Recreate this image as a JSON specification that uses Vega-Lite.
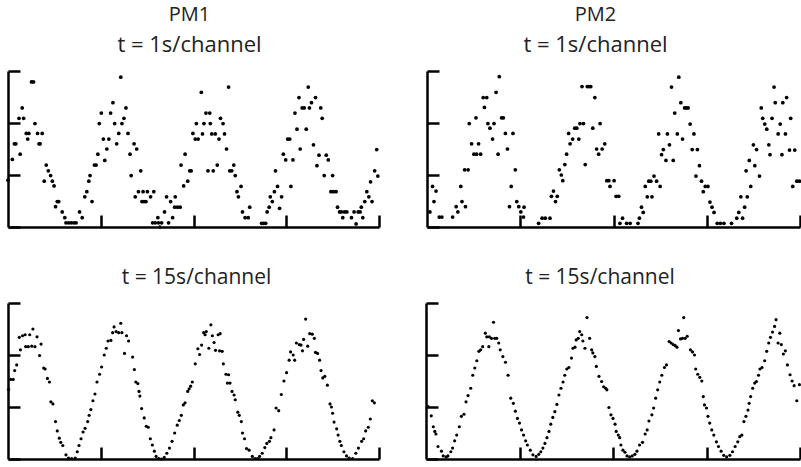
{
 "$schema": "https://vega.github.io/schema/vega-lite/v6.json",
 "padding": {"left": 6, "top": 4, "right": 0, "bottom": 2},
 "background": "white",
 "config": {
  "view": {"stroke": null},
  "font": "Open Sans",
  "title": {"font": "Open Sans", "fontSize": 20, "fontWeight": "normal", "color": "#222", "subtitleFont": "Open Sans", "subtitleFontSize": 22, "subtitleColor": "#222", "subtitlePadding": 10, "anchor": "middle", "offset": 14},
  "axis": {"domainColor": "#000", "domainWidth": 2.5, "tickColor": "#000", "tickWidth": 2.5, "tickSize": -12, "labels": false, "title": null, "grid": false}
 },
 "datasets": {
  "p1s": [
   {"ch":0,"v":0.90},{"ch":1.5,"v":1.30},{"ch":2.2,"v":1.60},{"ch":2.7,"v":1.60},{"ch":3.8,"v":2.09},{"ch":4.2,"v":1.40},{"ch":4.9,"v":2.29},{"ch":5.4,"v":2.09},{"ch":6.3,"v":1.80},{"ch":6.8,"v":1.69},{"ch":7.2,"v":1.80},{"ch":8.1,"v":2.79},{"ch":8.8,"v":2.79},{"ch":9.3,"v":1.99},{"ch":10.2,"v":1.80},{"ch":10.7,"v":1.60},{"ch":11.1,"v":1.60},{"ch":11.8,"v":1.80},{"ch":12.5,"v":0.88},{"ch":13.2,"v":1.19},{"ch":13.9,"v":1.08},{"ch":14.7,"v":0.99},{"ch":15.3,"v":0.88},{"ch":15.9,"v":0.79},{"ch":16.4,"v":0.39},{"ch":17.0,"v":0.49},{"ch":17.5,"v":0.49},{"ch":18.7,"v":0.29},{"ch":19.6,"v":0.18},{"ch":20.0,"v":0.08},{"ch":20.9,"v":0.08},{"ch":21.8,"v":0.08},{"ch":22.7,"v":0.08},{"ch":23.5,"v":0.08},{"ch":24.7,"v":0.29},{"ch":25.6,"v":0.18},{"ch":26.5,"v":0.58},{"ch":27.2,"v":0.68},{"ch":27.9,"v":0.88},{"ch":28.3,"v":0.99},{"ch":29.0,"v":0.49},{"ch":29.8,"v":1.19},{"ch":30.4,"v":1.19},{"ch":31.0,"v":1.40},{"ch":31.5,"v":1.99},{"ch":32.2,"v":2.19},{"ch":32.9,"v":1.69},{"ch":33.4,"v":1.28},{"ch":34.1,"v":1.50},{"ch":34.8,"v":1.69},{"ch":35.4,"v":2.19},{"ch":36.2,"v":2.39},{"ch":36.8,"v":1.99},{"ch":37.5,"v":1.60},{"ch":38.2,"v":1.80},{"ch":38.9,"v":2.88},{"ch":39.3,"v":1.99},{"ch":40.0,"v":2.09},{"ch":40.7,"v":2.29},{"ch":41.4,"v":1.80},{"ch":42.1,"v":1.40},{"ch":42.5,"v":0.99},{"ch":43.5,"v":1.60},{"ch":43.9,"v":0.58},{"ch":44.4,"v":1.50},{"ch":45.0,"v":0.68},{"ch":45.8,"v":1.08},{"ch":46.2,"v":0.49},{"ch":46.6,"v":0.68},{"ch":46.9,"v":0.49},{"ch":47.6,"v":0.49},{"ch":48.1,"v":0.68},{"ch":49.2,"v":0.58},{"ch":50.3,"v":0.68},{"ch":49.9,"v":0.08},{"ch":50.8,"v":0.08},{"ch":51.7,"v":0.18},{"ch":51.9,"v":0.08},{"ch":52.4,"v":0.0},{"ch":53.0,"v":0.08},{"ch":54.0,"v":0.29},{"ch":54.7,"v":0.58},{"ch":55.4,"v":0.08},{"ch":56.1,"v":0.49},{"ch":56.8,"v":0.18},{"ch":57.7,"v":0.58},{"ch":57.5,"v":0.38},{"ch":58.5,"v":0.38},{"ch":59.4,"v":0.38},{"ch":59.7,"v":1.19},{"ch":60.6,"v":0.79},{"ch":61.1,"v":1.40},{"ch":62.0,"v":0.88},{"ch":62.7,"v":1.08},{"ch":63.2,"v":1.08},{"ch":63.8,"v":1.80},{"ch":64.6,"v":1.69},{"ch":65.6,"v":1.69},{"ch":65.0,"v":1.99},{"ch":66.7,"v":2.59},{"ch":67.1,"v":1.79},{"ch":67.6,"v":1.99},{"ch":68.3,"v":2.19},{"ch":69.0,"v":1.08},{"ch":69.6,"v":2.19},{"ch":69.8,"v":1.99},{"ch":70.3,"v":1.79},{"ch":70.8,"v":1.08},{"ch":71.5,"v":1.79},{"ch":72.2,"v":1.19},{"ch":72.8,"v":1.69},{"ch":73.3,"v":2.09},{"ch":74.2,"v":1.99},{"ch":74.7,"v":1.79},{"ch":75.4,"v":1.50},{"ch":76.1,"v":2.69},{"ch":76.5,"v":1.08},{"ch":77.2,"v":1.08},{"ch":77.9,"v":1.19},{"ch":78.4,"v":0.99},{"ch":79.0,"v":0.68},{"ch":79.5,"v":0.58},{"ch":80.4,"v":0.78},{"ch":80.9,"v":0.29},{"ch":81.8,"v":0.18},{"ch":82.9,"v":0.18},{"ch":83.4,"v":0.38},{"ch":87.5,"v":0.07},{"ch":88.2,"v":0.07},{"ch":88.9,"v":0.07},{"ch":89.4,"v":0.29},{"ch":90.1,"v":0.38},{"ch":90.5,"v":0.58},{"ch":91.2,"v":0.49},{"ch":91.9,"v":0.68},{"ch":92.3,"v":1.08},{"ch":93.0,"v":0.78},{"ch":93.7,"v":0.36},{"ch":94.4,"v":0.58},{"ch":95.0,"v":1.40},{"ch":95.8,"v":1.29},{"ch":96.5,"v":1.69},{"ch":97.2,"v":1.69},{"ch":97.6,"v":0.78},{"ch":98.3,"v":1.29},{"ch":99.0,"v":2.19},{"ch":99.7,"v":1.88},{"ch":100.4,"v":2.49},{"ch":100.8,"v":1.50},{"ch":101.5,"v":2.29},{"ch":102.2,"v":2.29},{"ch":102.9,"v":1.88},{"ch":103.6,"v":2.69},{"ch":104.0,"v":2.29},{"ch":104.7,"v":2.39},{"ch":105.4,"v":1.58},{"ch":106.1,"v":2.49},{"ch":106.6,"v":1.18},{"ch":107.3,"v":1.38},{"ch":107.9,"v":2.29},{"ch":108.4,"v":2.09},{"ch":109.1,"v":0.99},{"ch":109.8,"v":1.38},{"ch":110.5,"v":1.29},{"ch":111.4,"v":0.68},{"ch":112.3,"v":0.68},{"ch":113.2,"v":0.68},{"ch":112.0,"v":0.99},{"ch":113.7,"v":0.38},{"ch":114.4,"v":0.29},{"ch":115.0,"v":0.29},{"ch":115.5,"v":0.18},{"ch":116.1,"v":0.29},{"ch":116.9,"v":0.29},{"ch":118.5,"v":0.18},{"ch":119.4,"v":0.29},{"ch":120.1,"v":0.06},{"ch":120.8,"v":0.29},{"ch":121.5,"v":0.29},{"ch":121.9,"v":0.38},{"ch":122.4,"v":0.18},{"ch":123.1,"v":0.49},{"ch":123.8,"v":0.68},{"ch":124.5,"v":0.58},{"ch":125.1,"v":0.87},{"ch":125.6,"v":0.49},{"ch":126.5,"v":1.08},{"ch":127.2,"v":1.49},{"ch":127.6,"v":0.98}
  ],
  "p2s": [
   {"ch":1.0,"v":0.29},{"ch":1.9,"v":0.78},{"ch":2.4,"v":0.49},{"ch":3.1,"v":0.69},{"ch":4.2,"v":0.19},{"ch":5.1,"v":0.19},{"ch":8.8,"v":0.19},{"ch":10.0,"v":0.39},{"ch":10.6,"v":0.29},{"ch":11.6,"v":0.78},{"ch":12.0,"v":0.49},{"ch":12.9,"v":1.10},{"ch":13.2,"v":0.39},{"ch":14.1,"v":1.10},{"ch":14.5,"v":1.99},{"ch":15.3,"v":1.60},{"ch":16.1,"v":1.40},{"ch":17.0,"v":1.40},{"ch":16.8,"v":2.10},{"ch":17.7,"v":1.60},{"ch":18.4,"v":1.40},{"ch":19.3,"v":2.49},{"ch":19.7,"v":2.30},{"ch":20.5,"v":2.49},{"ch":20.9,"v":1.99},{"ch":21.6,"v":1.90},{"ch":22.5,"v":1.69},{"ch":23.0,"v":1.99},{"ch":23.7,"v":2.59},{"ch":24.4,"v":1.40},{"ch":24.8,"v":2.89},{"ch":25.6,"v":2.10},{"ch":26.2,"v":2.10},{"ch":26.9,"v":1.80},{"ch":27.6,"v":1.50},{"ch":28.3,"v":0.39},{"ch":28.9,"v":0.78},{"ch":29.5,"v":1.80},{"ch":30.3,"v":1.10},{"ch":30.8,"v":0.49},{"ch":31.5,"v":0.39},{"ch":32.2,"v":0.29},{"ch":33.1,"v":0.19},{"ch":33.3,"v":0.38},{"ch":38.3,"v":0.07},{"ch":39.5,"v":0.17},{"ch":40.6,"v":0.17},{"ch":42.2,"v":0.17},{"ch":42.7,"v":0.59},{"ch":43.4,"v":0.69},{"ch":44.1,"v":0.49},{"ch":44.7,"v":0.59},{"ch":45.4,"v":1.10},{"ch":46.1,"v":1.00},{"ch":46.6,"v":0.89},{"ch":47.3,"v":1.20},{"ch":47.9,"v":1.40},{"ch":48.6,"v":1.80},{"ch":49.1,"v":1.60},{"ch":50.0,"v":1.69},{"ch":50.7,"v":1.90},{"ch":51.4,"v":1.90},{"ch":52.1,"v":1.69},{"ch":52.5,"v":1.99},{"ch":53.2,"v":2.70},{"ch":53.7,"v":1.99},{"ch":54.3,"v":1.20},{"ch":55.0,"v":2.70},{"ch":55.6,"v":2.70},{"ch":56.2,"v":2.70},{"ch":56.9,"v":1.90},{"ch":57.6,"v":2.49},{"ch":58.2,"v":1.50},{"ch":58.9,"v":1.40},{"ch":59.4,"v":1.99},{"ch":60.1,"v":1.50},{"ch":61.0,"v":1.60},{"ch":61.7,"v":0.89},{"ch":62.4,"v":0.89},{"ch":62.8,"v":0.78},{"ch":64.2,"v":0.89},{"ch":64.9,"v":0.59},{"ch":65.8,"v":0.59},{"ch":66.2,"v":0.07},{"ch":67.1,"v":0.17},{"ch":68.5,"v":0.07},{"ch":69.7,"v":0.07},{"ch":72.4,"v":0.07},{"ch":72.9,"v":0.17},{"ch":73.6,"v":0.38},{"ch":74.2,"v":0.28},{"ch":74.9,"v":0.78},{"ch":75.6,"v":0.58},{"ch":76.1,"v":0.88},{"ch":76.8,"v":0.88},{"ch":77.2,"v":0.58},{"ch":77.9,"v":0.98},{"ch":78.8,"v":0.88},{"ch":79.5,"v":1.79},{"ch":80.0,"v":0.78},{"ch":80.5,"v":1.39},{"ch":81.1,"v":1.49},{"ch":82.0,"v":1.28},{"ch":82.5,"v":1.79},{"ch":83.2,"v":1.58},{"ch":83.9,"v":2.69},{"ch":84.5,"v":1.28},{"ch":85.0,"v":2.19},{"ch":85.9,"v":1.79},{"ch":86.4,"v":2.88},{"ch":87.1,"v":2.39},{"ch":87.7,"v":1.69},{"ch":88.4,"v":2.29},{"ch":89.0,"v":2.29},{"ch":89.6,"v":2.29},{"ch":90.3,"v":1.98},{"ch":91.0,"v":1.49},{"ch":91.6,"v":1.79},{"ch":92.3,"v":0.98},{"ch":92.8,"v":1.49},{"ch":93.5,"v":1.18},{"ch":94.2,"v":0.88},{"ch":94.8,"v":0.68},{"ch":95.5,"v":0.78},{"ch":96.4,"v":0.78},{"ch":97.1,"v":0.48},{"ch":97.8,"v":0.38},{"ch":98.5,"v":0.28},{"ch":99.6,"v":0.07},{"ch":100.7,"v":0.07},{"ch":101.9,"v":0.07},{"ch":104.5,"v":0.07},{"ch":106.3,"v":0.17},{"ch":107.0,"v":0.28},{"ch":107.7,"v":0.58},{"ch":108.3,"v":0.17},{"ch":109.0,"v":0.38},{"ch":109.5,"v":1.08},{"ch":109.9,"v":0.58},{"ch":110.6,"v":1.28},{"ch":111.1,"v":0.78},{"ch":112.0,"v":1.58},{"ch":112.5,"v":1.18},{"ch":113.1,"v":1.49},{"ch":114.1,"v":0.98},{"ch":114.7,"v":2.29},{"ch":115.2,"v":2.09},{"ch":115.9,"v":1.98},{"ch":116.6,"v":1.88},{"ch":117.3,"v":1.58},{"ch":117.7,"v":1.39},{"ch":118.4,"v":2.09},{"ch":119.1,"v":2.69},{"ch":119.5,"v":2.39},{"ch":120.5,"v":1.79},{"ch":121.2,"v":1.98},{"ch":121.8,"v":1.39},{"ch":122.1,"v":2.39},{"ch":123.0,"v":1.79},{"ch":123.4,"v":2.49},{"ch":124.4,"v":1.48},{"ch":124.8,"v":2.09},{"ch":125.5,"v":0.78},{"ch":126.2,"v":1.48},{"ch":126.9,"v":0.88},{"ch":127.8,"v":0.88}
  ],
  "p1l": [
   {"ch":0.2,"v":1.34},{"ch":0.9,"v":1.53},{"ch":1.8,"v":1.53},{"ch":2.3,"v":1.70},{"ch":3.0,"v":1.81},{"ch":3.9,"v":2.34},{"ch":4.3,"v":2.10},{"ch":5.0,"v":2.37},{"ch":5.9,"v":2.39},{"ch":6.1,"v":2.16},{"ch":7.0,"v":2.16},{"ch":7.5,"v":2.39},{"ch":8.2,"v":2.17},{"ch":8.6,"v":2.50},{"ch":9.3,"v":2.16},{"ch":10.0,"v":2.35},{"ch":10.9,"v":1.99},{"ch":11.4,"v":2.21},{"ch":12.3,"v":1.75},{"ch":12.8,"v":1.73},{"ch":13.6,"v":1.55},{"ch":14.3,"v":1.48},{"ch":14.8,"v":1.10},{"ch":15.5,"v":1.06},{"ch":16.4,"v":0.72},{"ch":17.0,"v":0.54},{"ch":17.7,"v":0.40},{"ch":18.2,"v":0.32},{"ch":18.9,"v":0.26},{"ch":20.0,"v":0.08},{"ch":20.9,"v":0.02},{"ch":22.0,"v":0.01},{"ch":23.2,"v":0.02},{"ch":23.9,"v":0.14},{"ch":24.5,"v":0.26},{"ch":25.2,"v":0.39},{"ch":25.9,"v":0.52},{"ch":26.6,"v":0.59},{"ch":27.5,"v":0.72},{"ch":28.0,"v":0.84},{"ch":28.6,"v":0.95},{"ch":29.3,"v":1.12},{"ch":30.0,"v":1.25},{"ch":30.7,"v":1.48},{"ch":31.6,"v":1.63},{"ch":32.3,"v":1.77},{"ch":33.2,"v":2.00},{"ch":33.9,"v":2.13},{"ch":34.5,"v":2.27},{"ch":35.5,"v":2.28},{"ch":36.1,"v":2.43},{"ch":36.6,"v":2.54},{"ch":37.3,"v":2.45},{"ch":38.2,"v":2.43},{"ch":38.9,"v":2.61},{"ch":39.3,"v":2.43},{"ch":40.2,"v":2.03},{"ch":40.9,"v":2.37},{"ch":41.6,"v":2.27},{"ch":43.0,"v":1.96},{"ch":43.6,"v":1.72},{"ch":44.1,"v":1.48},{"ch":44.8,"v":1.45},{"ch":45.2,"v":1.30},{"ch":45.5,"v":1.21},{"ch":46.1,"v":0.97},{"ch":47.0,"v":0.79},{"ch":47.7,"v":0.63},{"ch":48.4,"v":0.61},{"ch":49.1,"v":0.39},{"ch":49.8,"v":0.27},{"ch":50.5,"v":0.15},{"ch":51.1,"v":0.05},{"ch":52.0,"v":0.01},{"ch":52.9,"v":0.0},{"ch":53.9,"v":0.03},{"ch":54.8,"v":0.11},{"ch":55.7,"v":0.21},{"ch":56.6,"v":0.34},{"ch":57.5,"v":0.50},{"ch":58.4,"v":0.65},{"ch":59.1,"v":0.74},{"ch":59.8,"v":0.84},{"ch":60.5,"v":1.04},{"ch":61.1,"v":1.08},{"ch":62.0,"v":1.30},{"ch":62.5,"v":1.35},{"ch":63.0,"v":1.40},{"ch":63.6,"v":1.48},{"ch":64.6,"v":1.83},{"ch":65.5,"v":2.12},{"ch":66.1,"v":2.01},{"ch":66.8,"v":2.19},{"ch":67.5,"v":2.43},{"ch":68.0,"v":2.39},{"ch":68.4,"v":2.45},{"ch":69.3,"v":2.13},{"ch":70.0,"v":2.58},{"ch":70.5,"v":2.37},{"ch":71.1,"v":2.24},{"ch":71.6,"v":2.09},{"ch":72.5,"v":2.39},{"ch":73.0,"v":2.08},{"ch":73.2,"v":2.41},{"ch":73.9,"v":2.07},{"ch":74.3,"v":1.83},{"ch":75.2,"v":1.63},{"ch":75.7,"v":1.46},{"ch":76.1,"v":1.62},{"ch":76.6,"v":1.46},{"ch":77.3,"v":1.30},{"ch":78.0,"v":1.23},{"ch":78.4,"v":1.14},{"ch":79.3,"v":0.90},{"ch":79.8,"v":0.84},{"ch":80.5,"v":0.72},{"ch":80.9,"v":0.50},{"ch":81.6,"v":0.39},{"ch":82.3,"v":0.20},{"ch":83.2,"v":0.17},{"ch":84.3,"v":0.05},{"ch":85.2,"v":0.01},{"ch":86.1,"v":0.01},{"ch":86.8,"v":0.05},{"ch":87.7,"v":0.11},{"ch":88.6,"v":0.22},{"ch":89.3,"v":0.30},{"ch":90.2,"v":0.34},{"ch":90.7,"v":0.41},{"ch":91.8,"v":0.56},{"ch":92.5,"v":0.98},{"ch":93.4,"v":0.93},{"ch":94.3,"v":1.24},{"ch":95.2,"v":1.50},{"ch":96.1,"v":1.66},{"ch":97.0,"v":1.90},{"ch":97.5,"v":2.06},{"ch":98.4,"v":2.00},{"ch":98.9,"v":1.90},{"ch":99.5,"v":2.23},{"ch":100.5,"v":2.20},{"ch":101.1,"v":2.19},{"ch":101.6,"v":2.08},{"ch":102.0,"v":2.30},{"ch":102.7,"v":2.69},{"ch":103.4,"v":2.17},{"ch":104.1,"v":2.41},{"ch":105.0,"v":2.40},{"ch":105.7,"v":2.32},{"ch":106.1,"v":2.05},{"ch":106.8,"v":2.03},{"ch":107.5,"v":1.90},{"ch":108.0,"v":1.70},{"ch":108.6,"v":1.56},{"ch":109.3,"v":1.59},{"ch":110.2,"v":1.42},{"ch":111.1,"v":1.06},{"ch":111.6,"v":1.00},{"ch":112.0,"v":0.88},{"ch":112.5,"v":0.71},{"ch":113.4,"v":0.58},{"ch":113.9,"v":0.46},{"ch":114.5,"v":0.34},{"ch":115.0,"v":0.26},{"ch":115.9,"v":0.14},{"ch":116.8,"v":0.06},{"ch":117.7,"v":0.02},{"ch":118.9,"v":0.01},{"ch":120.0,"v":0.11},{"ch":120.9,"v":0.21},{"ch":122.0,"v":0.34},{"ch":122.7,"v":0.39},{"ch":123.4,"v":0.54},{"ch":124.3,"v":0.61},{"ch":125.0,"v":0.77},{"ch":125.7,"v":1.12},{"ch":126.4,"v":1.08}
  ],
  "p2l": [
   {"ch":0.7,"v":1.01},{"ch":1.8,"v":0.83},{"ch":2.5,"v":0.62},{"ch":3.0,"v":0.53},{"ch":3.4,"v":0.48},{"ch":4.1,"v":0.24},{"ch":5.3,"v":0.15},{"ch":5.9,"v":0.06},{"ch":6.9,"v":0.04},{"ch":7.5,"v":0.06},{"ch":8.5,"v":0.14},{"ch":9.1,"v":0.21},{"ch":9.8,"v":0.35},{"ch":10.5,"v":0.46},{"ch":11.4,"v":0.62},{"ch":12.1,"v":0.82},{"ch":13.0,"v":0.86},{"ch":13.7,"v":1.10},{"ch":14.4,"v":1.22},{"ch":15.3,"v":1.36},{"ch":16.0,"v":1.61},{"ch":16.7,"v":1.75},{"ch":17.4,"v":1.89},{"ch":18.1,"v":2.07},{"ch":18.7,"v":2.10},{"ch":19.4,"v":2.16},{"ch":20.3,"v":2.42},{"ch":20.8,"v":2.35},{"ch":21.5,"v":2.16},{"ch":21.7,"v":2.35},{"ch":22.4,"v":2.32},{"ch":23.1,"v":2.63},{"ch":23.5,"v":2.32},{"ch":24.2,"v":2.32},{"ch":24.9,"v":2.23},{"ch":25.4,"v":2.10},{"ch":26.3,"v":1.97},{"ch":27.2,"v":1.86},{"ch":28.1,"v":1.61},{"ch":29.0,"v":1.17},{"ch":29.9,"v":1.07},{"ch":30.6,"v":0.92},{"ch":31.3,"v":0.78},{"ch":32.0,"v":0.69},{"ch":32.7,"v":0.56},{"ch":33.4,"v":0.46},{"ch":34.1,"v":0.35},{"ch":34.7,"v":0.27},{"ch":35.7,"v":0.17},{"ch":36.6,"v":0.08},{"ch":37.7,"v":0.05},{"ch":38.6,"v":0.09},{"ch":39.3,"v":0.14},{"ch":40.0,"v":0.21},{"ch":40.7,"v":0.30},{"ch":41.4,"v":0.41},{"ch":42.1,"v":0.53},{"ch":42.7,"v":0.67},{"ch":43.4,"v":0.80},{"ch":44.1,"v":0.91},{"ch":44.8,"v":1.05},{"ch":45.5,"v":1.23},{"ch":46.2,"v":1.36},{"ch":46.9,"v":1.48},{"ch":47.5,"v":1.61},{"ch":48.2,"v":1.73},{"ch":48.9,"v":1.76},{"ch":49.8,"v":1.94},{"ch":50.3,"v":2.13},{"ch":51.0,"v":2.15},{"ch":51.4,"v":2.29},{"ch":52.1,"v":2.32},{"ch":52.6,"v":2.45},{"ch":53.3,"v":2.39},{"ch":53.7,"v":2.27},{"ch":54.4,"v":2.13},{"ch":55.1,"v":2.72},{"ch":56.0,"v":2.32},{"ch":56.7,"v":2.10},{"ch":57.1,"v":2.04},{"ch":57.8,"v":1.97},{"ch":58.3,"v":1.78},{"ch":59.2,"v":1.59},{"ch":60.1,"v":1.49},{"ch":60.8,"v":1.39},{"ch":61.5,"v":1.36},{"ch":61.9,"v":1.33},{"ch":62.6,"v":0.99},{"ch":63.3,"v":0.85},{"ch":64.0,"v":0.78},{"ch":64.7,"v":0.67},{"ch":65.1,"v":0.53},{"ch":65.8,"v":0.46},{"ch":66.3,"v":0.41},{"ch":66.7,"v":0.27},{"ch":67.4,"v":0.17},{"ch":68.1,"v":0.13},{"ch":68.8,"v":0.06},{"ch":69.7,"v":0.04},{"ch":70.6,"v":0.06},{"ch":71.5,"v":0.09},{"ch":72.2,"v":0.15},{"ch":73.1,"v":0.27},{"ch":74.1,"v":0.32},{"ch":75.0,"v":0.48},{"ch":75.7,"v":0.56},{"ch":76.3,"v":0.73},{"ch":77.3,"v":0.85},{"ch":77.9,"v":0.98},{"ch":78.6,"v":1.17},{"ch":79.3,"v":1.33},{"ch":80.0,"v":1.48},{"ch":80.7,"v":1.61},{"ch":81.6,"v":1.76},{"ch":82.3,"v":1.81},{"ch":83.2,"v":2.26},{"ch":83.9,"v":2.23},{"ch":84.6,"v":2.20},{"ch":85.3,"v":2.18},{"ch":85.9,"v":2.15},{"ch":86.4,"v":2.47},{"ch":87.1,"v":2.31},{"ch":87.8,"v":2.32},{"ch":88.2,"v":2.72},{"ch":88.7,"v":2.32},{"ch":89.4,"v":2.36},{"ch":90.5,"v":2.10},{"ch":91.2,"v":2.06},{"ch":91.9,"v":2.00},{"ch":92.3,"v":1.73},{"ch":93.0,"v":1.63},{"ch":93.7,"v":1.57},{"ch":94.4,"v":1.50},{"ch":94.9,"v":1.20},{"ch":95.3,"v":1.04},{"ch":96.0,"v":0.98},{"ch":96.5,"v":0.82},{"ch":97.1,"v":0.69},{"ch":97.8,"v":0.56},{"ch":98.5,"v":0.46},{"ch":99.4,"v":0.33},{"ch":100.1,"v":0.24},{"ch":101.0,"v":0.15},{"ch":101.9,"v":0.07},{"ch":102.9,"v":0.04},{"ch":104.0,"v":0.07},{"ch":104.9,"v":0.14},{"ch":105.8,"v":0.24},{"ch":106.7,"v":0.33},{"ch":107.4,"v":0.43},{"ch":108.1,"v":0.46},{"ch":108.8,"v":0.72},{"ch":109.5,"v":0.82},{"ch":110.2,"v":0.94},{"ch":110.6,"v":1.07},{"ch":111.1,"v":1.20},{"ch":111.8,"v":1.36},{"ch":112.5,"v":1.46},{"ch":113.1,"v":1.49},{"ch":113.8,"v":1.61},{"ch":114.3,"v":1.73},{"ch":115.0,"v":1.76},{"ch":115.9,"v":1.89},{"ch":116.6,"v":2.07},{"ch":117.3,"v":2.23},{"ch":117.9,"v":2.34},{"ch":118.6,"v":2.44},{"ch":119.3,"v":2.55},{"ch":119.8,"v":2.68},{"ch":120.5,"v":2.23},{"ch":121.1,"v":2.42},{"ch":121.6,"v":2.20},{"ch":122.3,"v":2.02},{"ch":123.0,"v":2.08},{"ch":123.7,"v":1.81},{"ch":124.6,"v":1.62},{"ch":125.3,"v":1.50},{"ch":126.0,"v":1.41},{"ch":126.9,"v":1.12},{"ch":127.8,"v":1.43}
  ]
 },
 "vconcat": [
  {
   "spacing": 44,
   "hconcat": [
    {
     "width": 371, "height": 156,
     "title": {"text": "PM1", "subtitle": "t = 1s/channel", "dx": -4, "fontSize": 20, "subtitleFontSize": 22},
     "data": {"name": "p1s"},
     "mark": {"type": "circle", "size": 14, "color": "#000", "opacity": 1},
     "encoding": {
      "x": {"field": "ch", "type": "quantitative", "scale": {"domain": [0, 128], "nice": false}, "axis": {"values": [32, 64, 96, 128]}},
      "y": {"field": "v", "type": "quantitative", "scale": {"domain": [0, 3], "nice": false}, "axis": {"values": [0, 1, 2, 3]}}
     }
    },
    {
     "width": 373, "height": 156,
     "title": {"text": "PM2", "subtitle": "t = 1s/channel", "dx": -18, "fontSize": 20, "subtitleFontSize": 22},
     "data": {"name": "p2s"},
     "mark": {"type": "circle", "size": 14, "color": "#000", "opacity": 1},
     "encoding": {
      "x": {"field": "ch", "type": "quantitative", "scale": {"domain": [0, 128], "nice": false}, "axis": {"values": [32, 64, 96, 128]}},
      "y": {"field": "v", "type": "quantitative", "scale": {"domain": [0, 3], "nice": false}, "axis": {"values": [0, 1, 2, 3]}}
     }
    }
   ]
  },
  {
   "spacing": 43,
   "hconcat": [
    {
     "width": 371, "height": 156,
     "title": {"text": "t = 15s/channel", "dx": 3, "fontSize": 21},
     "data": {"name": "p1l"},
     "mark": {"type": "circle", "size": 10, "color": "#000", "opacity": 1},
     "encoding": {
      "x": {"field": "ch", "type": "quantitative", "scale": {"domain": [0, 128], "nice": false}, "axis": {"values": [32, 64, 96, 128]}},
      "y": {"field": "v", "type": "quantitative", "scale": {"domain": [0, 3], "nice": false}, "axis": {"values": [0, 1, 2, 3]}}
     }
    },
    {
     "width": 374, "height": 156,
     "title": {"text": "t = 15s/channel", "dx": -13, "fontSize": 21},
     "data": {"name": "p2l"},
     "mark": {"type": "circle", "size": 10, "color": "#000", "opacity": 1},
     "encoding": {
      "x": {"field": "ch", "type": "quantitative", "scale": {"domain": [0, 128], "nice": false}, "axis": {"values": [32, 64, 96, 128]}},
      "y": {"field": "v", "type": "quantitative", "scale": {"domain": [0, 3], "nice": false}, "axis": {"values": [0, 1, 2, 3]}}
     }
    }
   ]
  }
 ],
 "spacing": 37
}
